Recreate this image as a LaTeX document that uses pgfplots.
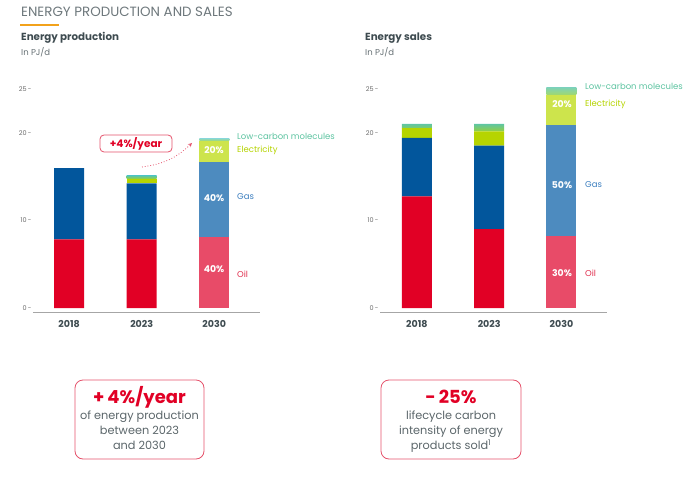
\documentclass[border=0pt]{standalone}
\usepackage{fontspec}
\setmainfont{Poppins}
\usepackage{pgfplots}
\pgfplotsset{compat=1.18}
\definecolor{oil}{HTML}{E10025}
\definecolor{oilL}{HTML}{E84B68}
\definecolor{gas}{HTML}{02569C}
\definecolor{gasL}{HTML}{4D8BBF}
\definecolor{elec}{HTML}{B6D400}
\definecolor{elecL}{HTML}{CDE44C}
\definecolor{lcm}{HTML}{5DC6A5}
\definecolor{txt}{HTML}{3E4B50}
\definecolor{tickc}{HTML}{6B6B6B}
\definecolor{boxred}{HTML}{E5526B}
\definecolor{orangeline}{HTML}{F2A21B}
\definecolor{lcmtxt}{HTML}{5CC3A0}
\definecolor{electxt}{HTML}{B5D300}
\definecolor{gastxt}{HTML}{3D7FBF}
\definecolor{oiltxt}{HTML}{E0304F}
\pgfplotsset{
  barchart/.style={
    scale only axis, width=227pt, height=223.1pt,
    ymin=-0.5, ymax=25,
    ybar stacked, bar width=30pt,
    axis x line=bottom, axis y line=left,
    x axis line style={draw=tickc!60, line width=0.8pt, -},
    y axis line style={draw=none},
    major tick length=0pt,
    xtick={0,1,2}, xticklabels={2018,2023,2030},
    xticklabel style={font=\fontsize{9.5}{11}\selectfont\bfseries, text=txt, yshift=-4.5pt},
    ytick={0,10,20,25}, yticklabels={0\,-,10\,-,20\,-,25\,-},
    yticklabel style={font=\fontsize{6.5}{8}\selectfont, text=tickc, xshift=2pt},
    every axis plot/.append style={draw=none},
    clip=false,
  }
}
\begin{document}
\begin{tikzpicture}[x=1pt,y=1pt]
\useasboundingbox (0,0) rectangle (692,485);
% header
\node[anchor=base west, inner sep=0, text=txt!75, font=\fontsize{13.4}{15}\selectfont] at (21,468) {ENERGY PRODUCTION AND SALES};
\fill[orangeline] (20,460.7) rectangle (59,459.3);
\node[anchor=base west, inner sep=0, text=txt, font=\fontsize{10.3}{12}\selectfont\bfseries] at (21,444) {Energy production};
\node[anchor=base west, inner sep=0, text=txt!80, font=\fontsize{8.5}{10}\selectfont] at (21,429.3) {In PJ/d};
\node[anchor=base west, inner sep=0, text=txt, font=\fontsize{10.3}{12}\selectfont\bfseries] at (365,444) {Energy sales};
\node[anchor=base west, inner sep=0, text=txt!80, font=\fontsize{8.5}{10}\selectfont] at (365,429.3) {In PJ/d};

% production
\begin{axis}[barchart, at={(33pt,172.6pt)}, anchor=south west, xmin=-0.497, xmax=2.63]
\addplot[fill=oil] coordinates {(0,7.85) (1,7.85) (2,0)};
\addplot[fill=oilL] coordinates {(0,0) (1,0) (2,8.08)};
\addplot[fill=gas] coordinates {(0,8.15) (1,6.4) (2,0)};
\addplot[fill=gasL] coordinates {(0,0) (1,0) (2,8.62)};
\addplot[fill=elec] coordinates {(0,0) (1,0.55) (2,0)};
\addplot[fill=elecL] coordinates {(0,0) (1,0) (2,2.4)};
\addplot[top color=lcm, bottom color=elec!60!lcm] coordinates {(0,0) (1,0.3) (2,0)};
\addplot[top color=lcm!70, bottom color=elecL!60!lcm] coordinates {(0,0) (1,0) (2,0.25)};
\end{axis}

% sales
\begin{axis}[barchart, at={(380pt,172.6pt)}, anchor=south west, xmin=-0.51, xmax=2.63]
\addplot[fill=oil] coordinates {(0,12.75) (1,9.03) (2,0)};
\addplot[fill=oilL] coordinates {(0,0) (1,0) (2,8.26)};
\addplot[fill=gas] coordinates {(0,6.71) (1,9.52) (2,0)};
\addplot[fill=gasL] coordinates {(0,0) (1,0) (2,12.69)};
\addplot[fill=elec] coordinates {(0,1.1) (1,1.65) (2,0)};
\addplot[fill=elecL] coordinates {(0,0) (1,0) (2,3.45)};
\addplot[top color=lcm, bottom color=elec!60!lcm] coordinates {(0,0.5) (1,0.86) (2,0)};
\addplot[top color=lcm!80, bottom color=elecL!60!lcm] coordinates {(0,0) (1,0) (2,0.8)};
\end{axis}

% percent labels
\begin{scope}[every node/.style={text=white, font=\fontsize{9.3}{10}\selectfont\bfseries, inner sep=0}]
\node at (214,335) {20\%};
\node at (214,287) {40\%};
\node at (214,216) {40\%};
\node at (562,381) {20\%};
\node at (562,300) {50\%};
\node at (562,212) {30\%};
\end{scope}
% category labels
\begin{scope}[every node/.style={anchor=west, font=\fontsize{8.5}{10}\selectfont, inner sep=0}]
\node[text=lcmtxt] at (237,349) {Low-carbon molecules};
\node[text=electxt] at (237,335) {Electricity};
\node[text=gastxt] at (237,288) {Gas};
\node[text=oiltxt] at (237,211) {Oil};
\node[text=lcmtxt] at (585,399) {Low-carbon molecules};
\node[text=electxt] at (585,381) {Electricity};
\node[text=gastxt] at (585,300) {Gas};
\node[text=oiltxt] at (585,212) {Oil};
\end{scope}

% annotation
\draw[boxred, line width=0.8pt, rounded corners=4pt, fill=white] (100,350) rectangle (172,333);
\node[text=oil, font=\fontsize{10.5}{12}\selectfont\bfseries] at (136,341.5) {+4\%/year};
\draw[boxred, dotted, line width=0.8pt, -stealth] (142,318) to[bend right=18] (192,342);

% bottom boxes
\draw[boxred, line width=0.8pt, rounded corners=8pt] (75,105) rectangle (204,26);
\node[anchor=base, text=oil, font=\fontsize{18}{20}\selectfont\bfseries, inner sep=0] at (139.5,81.7) {+\,4\%/year};
\begin{scope}[every node/.style={anchor=base, text=txt!85, font=\fontsize{11.3}{13}\selectfont, inner sep=0}]
\node at (139.5,65.7) {of energy production};
\node at (139.5,50.7) {between 2023};
\node at (139.5,35.7) {and 2030};
\end{scope}
\draw[boxred, line width=0.8pt, rounded corners=8pt] (381,105) rectangle (521,26);
\node[anchor=base, text=oil, font=\fontsize{18}{20}\selectfont\bfseries, inner sep=0] at (451,81.7) {-\,25\%};
\begin{scope}[every node/.style={anchor=base, text=txt!85, font=\fontsize{11.3}{13}\selectfont, inner sep=0}]
\node at (451,65.7) {lifecycle carbon};
\node at (451,50.7) {intensity of energy};
\node at (451,35.7) {products sold\textsuperscript{1}};
\end{scope}
\end{tikzpicture}
\end{document}
